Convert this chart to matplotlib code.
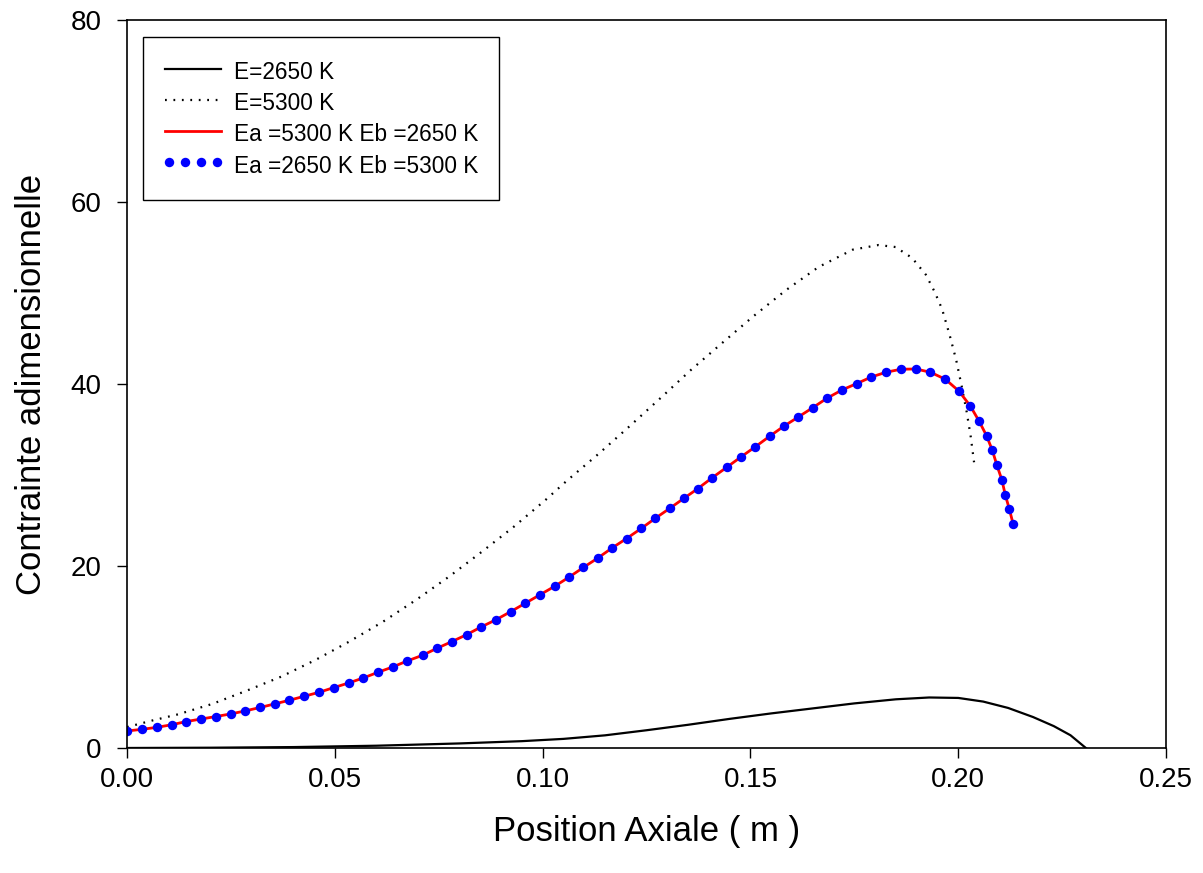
import matplotlib

matplotlib.use("Agg")
import matplotlib.pyplot as plt
from matplotlib.legend_handler import HandlerLine2D

# E = 2650 K (solid black)
pos_e2650 = [0.000, 0.020, 0.040, 0.060, 0.080, 0.095, 0.105, 0.115, 0.125,
             0.135, 0.145, 0.155, 0.165, 0.175, 0.185, 0.193, 0.200, 0.206,
             0.212, 0.218, 0.223, 0.227, 0.2307]
stress_e2650 = [0.0, 0.03, 0.1, 0.25, 0.5, 0.75, 1.0, 1.39, 1.95,
                2.55, 3.2, 3.8, 4.35, 4.9, 5.35, 5.55, 5.5, 5.1,
                4.4, 3.4, 2.4, 1.4, 0.0]

# E = 5300 K (dotted black)
pos_e5300 = [0.0000, 0.0059, 0.0123, 0.0205, 0.0288, 0.0371, 0.0452, 0.0533,
             0.0615, 0.0695, 0.0776, 0.0853, 0.0930, 0.1006, 0.1059, 0.1135,
             0.1209, 0.1283, 0.1356, 0.1432, 0.1507, 0.1585, 0.1664, 0.1746,
             0.1808, 0.1849, 0.1889, 0.1922, 0.1943, 0.1961, 0.1979, 0.1995,
             0.2008, 0.2020, 0.2030, 0.2038]
stress_e5300 = [2.3, 3.0, 3.7, 4.84, 6.30, 7.84, 9.64, 11.65,
                13.85, 16.26, 18.87, 21.54, 24.29, 27.22, 29.4, 32.34,
                35.35, 38.43, 41.51, 44.51, 47.44, 50.30, 52.86, 54.76,
                55.27, 55.05, 53.85, 52.01, 50.14, 48.24, 45.42, 42.64,
                39.81, 37.00, 34.21, 31.40]

# Ea/Eb mixed cases (both give the same curve)
pos_mixed = [0.0000, 0.0036, 0.0072, 0.0108, 0.0143, 0.0179, 0.0213, 0.0249,
             0.0284, 0.0320, 0.0355, 0.0390, 0.0426, 0.0462, 0.0497, 0.0533,
             0.0568, 0.0604, 0.0639, 0.0674, 0.0711, 0.0746, 0.0781, 0.0817,
             0.0852, 0.0888, 0.0923, 0.0958, 0.0994, 0.1029, 0.1064, 0.1098,
             0.1133, 0.1167, 0.1202, 0.1237, 0.1271, 0.1306, 0.1340, 0.1373,
             0.1408, 0.1444, 0.1477, 0.1512, 0.1546, 0.1580, 0.1614, 0.1650,
             0.1684, 0.1720, 0.1756, 0.1791, 0.1826, 0.1862, 0.1898, 0.1933,
             0.1969, 0.2002, 0.2029, 0.2050, 0.2068, 0.2082, 0.2093, 0.2105,
             0.2113, 0.2123, 0.2132]
stress_mixed = [1.87, 2.05, 2.27, 2.56, 2.91, 3.19, 3.45, 3.74,
                4.07, 4.45, 4.84, 5.24, 5.68, 6.12, 6.63, 7.14,
                7.69, 8.32, 8.90, 9.56, 10.19, 10.96, 11.68, 12.45,
                13.30, 14.10, 14.98, 15.90, 16.85, 17.77, 18.79, 19.84,
                20.88, 21.98, 23.02, 24.12, 25.24, 26.34, 27.44, 28.49,
                29.70, 30.88, 31.98, 33.11, 34.25, 35.35, 36.34, 37.40,
                38.43, 39.34, 40.05, 40.77, 41.29, 41.62, 41.65, 41.29,
                40.52, 39.20, 37.58, 35.93, 34.32, 32.71, 31.07, 29.45,
                27.84, 26.23, 24.62]

x_ticks = [0.00, 0.05, 0.10, 0.15, 0.20, 0.25]
y_ticks = [0, 20, 40, 60, 80]

plt.rcParams["font.family"] = ["Liberation Sans", "DejaVu Sans"]

fig = plt.figure(figsize=(12.03, 8.73), dpi=100)
ax = fig.add_axes([0.1056, 0.1432, 0.8637, 0.8339])

ax.plot(pos_e2650, stress_e2650, color="black", lw=1.6, label="E=2650 K")
ax.plot(pos_e5300, stress_e5300, color="black", lw=1.6, linestyle=(0, (0.8, 3.0)),
        label="E=5300 K")
ax.plot(pos_mixed, stress_mixed, color="red", lw=2.0,
        label="Ea =5300 K Eb =2650 K")
blue, = ax.plot(pos_mixed, stress_mixed, color="blue", lw=0, marker="o",
                markersize=6.8, markeredgewidth=0, label="Ea =2650 K Eb =5300 K")

ax.set_xlim(0, 0.25)
ax.set_ylim(0, 80)
ax.set_xticks(x_ticks)
ax.set_xticklabels([f"{t:.2f}" for t in x_ticks])
ax.set_yticks(y_ticks)

ax.tick_params(axis="both", direction="out", length=7.5, width=1.0,
               labelsize=20, top=False, right=False)
ax.tick_params(axis="x", pad=6)
ax.tick_params(axis="y", pad=11)
for spine in ax.spines.values():
    spine.set_linewidth(1.2)

ax.set_xlabel("Position Axiale ( m )", fontsize=25, labelpad=16)
ax.set_ylabel("Contrainte adimensionnelle", fontsize=25, labelpad=16)

legend = ax.legend(loc="upper left", bbox_to_anchor=(0.0154, 0.9766),
                   borderaxespad=0, fontsize=16.3, frameon=True, fancybox=False,
                   edgecolor="black", framealpha=1, handlelength=2.5,
                   handleheight=1.4, handletextpad=0.55, labelspacing=0.22,
                   borderpad=0.95, numpoints=1,
                   handler_map={blue: HandlerLine2D(numpoints=4, marker_pad=0.2)})
legend.get_frame().set_linewidth(1.0)

fig.savefig("out.png", dpi=100)
